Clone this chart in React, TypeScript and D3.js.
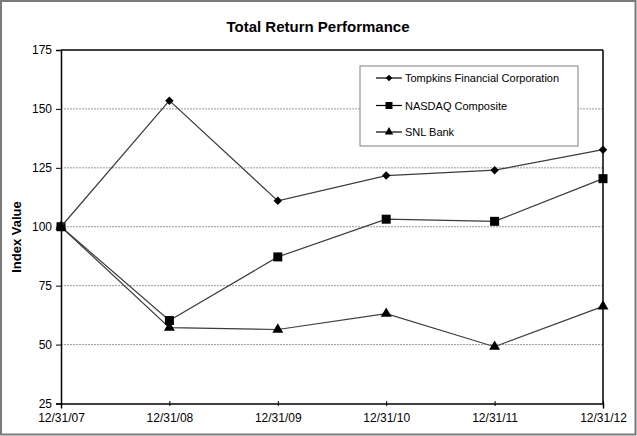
import React, { useEffect, useRef } from "react";
import * as d3 from "d3";

const dates = ["12/31/07", "12/31/08", "12/31/09", "12/31/10", "12/31/11", "12/31/12"];
const tompkins = [100, 153.5, 111, 121.7, 124, 132.7];
const nasdaq = [100, 60.2, 87.2, 103.2, 102.3, 120.4];
const snlBank = [100, 57.2, 56.4, 63.1, 49.1, 66.2];
const yTicks = [25, 50, 75, 100, 125, 150, 175];

const seriesNames = ["Tompkins Financial Corporation", "NASDAQ Composite", "SNL Bank"];
const seriesValues = [tompkins, nasdaq, snlBank];
const markers = ["diamond", "square", "triangle"];

const W = 637;
const H = 436;
const FONT = "'Liberation Sans', Arial, sans-serif";

function drawMarker(g: d3.Selection<SVGGElement, unknown, null, undefined>, kind: string, x: number, y: number, k = 1) {
  const sym =
    kind === "diamond"
      ? d3.symbol().type(d3.symbolSquare).size(36 * k)
      : kind === "square"
      ? d3.symbol().type(d3.symbolSquare).size(81 * k)
      : d3.symbol().type(d3.symbolTriangle).size(52 * k);
  g.append("path")
    .attr("d", sym() as string)
    .attr("transform", `translate(${x},${y})${kind === "diamond" ? " rotate(45)" : ""}`)
    .attr("fill", "#000");
}

const App: React.FC = () => {
  const ref = useRef<SVGSVGElement | null>(null);

  useEffect(() => {
    const svg = d3.select(ref.current);
    svg.selectAll("*").remove();

    const left = 61, right = 603, top = 50, bottom = 403.5;

    const x = d3.scalePoint<string>().domain(dates).range([left, right]);
    const y = d3.scaleLinear().domain([25, 175]).range([bottom, top]);

    svg.append("rect").attr("width", W).attr("height", H).attr("fill", "#fff");
    // outer frame
    svg.append("rect")
      .attr("x", 1).attr("y", 1).attr("width", W - 2.5).attr("height", H - 2.5)
      .attr("fill", "none").attr("stroke", "#7a7a7a").attr("stroke-width", 2);

    // title
    svg.append("text")
      .attr("x", 318).attr("y", 32)
      .attr("text-anchor", "middle")
      .style("font-family", FONT).style("font-weight", "bold").style("font-size", "15px")
      .text("Total Return Performance");

    // gridlines
    svg.append("g")
      .selectAll("line")
      .data(yTicks.filter((t) => t > 25 && t < 175))
      .enter()
      .append("line")
      .attr("x1", left).attr("x2", right)
      .attr("y1", (d) => y(d)).attr("y2", (d) => y(d))
      .attr("stroke", "#9a9a9a").attr("stroke-width", 1).attr("stroke-dasharray", "2,1");

    // top and right border
    svg.append("line").attr("x1", left).attr("x2", right).attr("y1", top).attr("y2", top)
      .attr("stroke", "#000").attr("stroke-width", 1.5);
    svg.append("line").attr("x1", right).attr("x2", right).attr("y1", top).attr("y2", bottom)
      .attr("stroke", "#000").attr("stroke-width", 1.5);

    // y axis
    const yAxis = svg.append("g").attr("transform", `translate(${left},0)`)
      .call(d3.axisLeft(y).tickValues(yTicks).tickSize(5).tickPadding(4));
    yAxis.select(".domain").attr("stroke", "#000").attr("stroke-width", 1.5);
    yAxis.selectAll("text").style("font-family", FONT).style("font-size", "12px").attr("fill", "#000");

    // x axis
    const xAxis = svg.append("g").attr("transform", `translate(0,${bottom})`)
      .call(d3.axisBottom(x).tickSize(5).tickPadding(5));
    xAxis.select(".domain").attr("stroke", "#000").attr("stroke-width", 1.5);
    xAxis.selectAll("line").attr("transform", "translate(0,-2.5)");
    xAxis.selectAll("text").style("font-family", FONT).style("font-size", "12px").attr("fill", "#000");

    // y label
    svg.append("text")
      .attr("transform", `translate(21,237) rotate(-90)`)
      .attr("text-anchor", "middle")
      .style("font-family", FONT).style("font-weight", "bold").style("font-size", "13px")
      .text("Index Value");

    const line = d3.line<number>().x((_, i) => x(dates[i]) as number).y((d) => y(d));

    // draw in reverse so Tompkins sits on top
    [2, 1, 0].forEach((s) => {
      const g = svg.append("g");
      g.append("path").datum(seriesValues[s]).attr("d", line)
        .attr("fill", "none").attr("stroke", "#3c3c3c").attr("stroke-width", 1.2);
      seriesValues[s].forEach((v, i) => drawMarker(g, markers[s], x(dates[i]) as number, y(v)));
    });

    // legend
    const lg = svg.append("g");
    lg.append("rect").attr("x", 360).attr("y", 66).attr("width", 218).attr("height", 80)
      .attr("fill", "#fff").attr("stroke", "#808080").attr("stroke-width", 1);
    const rowY = [78, 105.5, 132];
    seriesNames.forEach((name, s) => {
      lg.append("line").attr("x1", 376).attr("x2", 402).attr("y1", rowY[s]).attr("y2", rowY[s])
        .attr("stroke", "#000").attr("stroke-width", 1.2);
      drawMarker(lg as any, markers[s], 389, rowY[s], 0.6);
      lg.append("text").attr("x", 405).attr("y", rowY[s] + 4)
        .style("font-family", FONT).style("font-size", "11px")
        .text(name);
    });
  }, []);

  return (
    <svg
      ref={ref}
      width={W}
      height={H}
      style={{ position: "absolute", left: 0, top: 0 }}
    />
  );
};

export default App;
